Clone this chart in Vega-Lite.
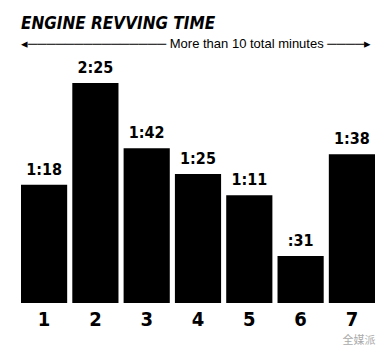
{
  "$schema": "https://vega.github.io/schema/vega-lite/v6.json",
  "width": 354,
  "height": 220,
  "autosize": {"type": "none"},
  "padding": {"left": 21, "top": 83, "right": 16, "bottom": 49},
  "background": "white",
  "title": {
    "text": "ENGINE REVVING TIME",
    "subtitle": "◂───────────────  More than 10 total minutes  ────▸",
    "anchor": "start",
    "frame": "group",
    "font": "'DejaVu Sans Condensed', 'Liberation Sans Narrow', Roboto",
    "fontSize": 17,
    "fontWeight": "bold",
    "fontStyle": "italic",
    "color": "black",
    "subtitleFont": "Liberation Sans",
    "subtitleFontSize": 13,
    "subtitleColor": "black",
    "subtitlePadding": 5,
    "offset": 8
  },
  "data": {
    "values": [
      {"day": "1", "sec": 78, "label": "1:18"},
      {"day": "2", "sec": 145, "label": "2:25"},
      {"day": "3", "sec": 102, "label": "1:42"},
      {"day": "4", "sec": 85, "label": "1:25"},
      {"day": "5", "sec": 71, "label": "1:11"},
      {"day": "6", "sec": 31, "label": ":31"},
      {"day": "7", "sec": 98, "label": "1:38"}
    ]
  },
  "encoding": {
    "x": {
      "field": "day",
      "type": "ordinal",
      "scale": {"paddingInner": 0.1, "paddingOuter": 0},
      "axis": {
        "title": "全媒派",
        "titleAnchor": "end",
        "titleFont": "Noto Sans CJK SC",
        "titleFontSize": 11,
        "titleFontWeight": "normal",
        "titleColor": "#aaaaaa",
        "titlePadding": 5,
        "labelAngle": 0,
        "labelFont": "'DejaVu Sans Condensed', 'Liberation Sans Narrow', Roboto",
        "labelFontWeight": "bold",
        "labelFontSize": 20,
        "labelColor": "black",
        "labelPadding": 6,
        "ticks": false,
        "domain": false
      }
    },
    "y": {
      "field": "sec",
      "type": "quantitative",
      "scale": {"domain": [0, 145]},
      "axis": null
    }
  },
  "layer": [
    {"mark": {"type": "bar", "color": "black"}},
    {
      "mark": {
        "type": "text",
        "baseline": "bottom",
        "dy": -7,
        "font": "'DejaVu Sans Condensed', 'Liberation Sans Narrow', Roboto",
        "fontWeight": "bold",
        "fontSize": 16,
        "color": "black"
      },
      "encoding": {"text": {"field": "label"}}
    }
  ],
  "config": {"view": {"stroke": null}}
}
